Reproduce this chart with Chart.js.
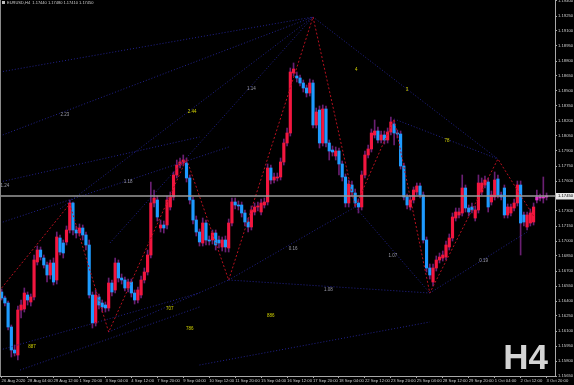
<!DOCTYPE html>
<html>
<head>
<meta charset="utf-8">
<script src="https://cdn.jsdelivr.net/npm/chart.js"></script>
<style>
  html, body { margin: 0; padding: 0; background: #000; }
  #chartCanvas { display: block; }
</style>
</head>
<body>
<canvas id="chartCanvas" width="574" height="385"></canvas>
<script>
var symbolName = "EURUSD,H4";

// H4 candles (oldest first)
var opens = [
  1.1649,1.1643,1.1638,1.1614,1.1591,1.1586,1.1631,1.1632,1.1646,1.1639,
  1.1644,1.1679,1.1691,1.1683,1.1676,1.1666,1.1678,1.1661,1.1703,1.1698,
  1.1699,1.1711,1.1738,1.1711,1.1708,1.1713,1.1706,1.1696,1.1646,1.1618,
  1.1644,1.1638,1.1636,1.1633,1.1658,1.1651,1.1678,1.1663,1.1661,1.1653,
  1.1659,1.1648,1.1641,1.1646,1.1661,1.1669,1.1686,1.1738,1.1741,1.1713,
  1.1716,1.1716,1.1734,1.1744,1.1766,1.1776,1.1778,1.1778,1.1763,1.1741,
  1.1721,1.1709,1.1698,1.1718,1.1701,1.1701,1.1708,1.1701,1.1694,1.1701,
  1.1693,1.1718,1.1739,1.1736,1.1736,1.1728,1.1719,1.1714,1.1729,1.1734,
  1.1729,1.1736,1.1739,1.1773,1.1761,1.1763,1.1764,1.1779,1.1798,1.1808,
  1.1868,1.1865,1.1863,1.1858,1.1853,1.1848,1.1858,1.1816,1.1831,1.1798,
  1.1832,1.1798,1.1791,1.1785,1.1790,1.1777,1.1764,1.1738,1.1756,1.1748,
  1.1738,1.1734,1.1766,1.1786,1.1792,1.1806,1.1810,1.1801,1.1806,1.1801,
  1.1809,1.1817,1.1808,1.1807,1.1775,1.1744,1.1734,1.1741,1.1749,1.1755,
  1.1746,1.1701,1.1673,1.1659,1.1673,1.1681,1.1683,1.1684,1.1694,1.1703,
  1.1723,1.1726,1.1728,1.1753,1.1733,1.1734,1.1723,1.1731,1.1749,1.1756,
  1.1759,1.1739,1.1744,1.1762,1.1746,1.1753,1.1726,1.1728,1.1733,1.1738,
  1.1756,1.1726,1.1714,1.1718,1.1719,1.1741,1.1744,1.1743,1.1744
];
var highs = [
  1.1652,1.1645,1.1640,1.1616,1.1596,1.1635,1.1641,1.1653,1.1649,1.1647,
  1.1686,1.1695,1.1694,1.1686,1.1679,1.1681,1.1683,1.1709,1.1706,1.1701,
  1.1715,1.1741,1.1739,1.1715,1.1717,1.1716,1.1709,1.1701,1.1649,1.1651,
  1.1647,1.1641,1.1639,1.1663,1.1661,1.1683,1.1681,1.1667,1.1664,1.1662,
  1.1662,1.1651,1.1654,1.1665,1.1673,1.1691,1.1759,1.1751,1.1745,1.1721,
  1.1720,1.1745,1.1749,1.1769,1.1781,1.1783,1.1786,1.1783,1.1766,1.1744,
  1.1725,1.1712,1.1723,1.1721,1.1705,1.1711,1.1711,1.1705,1.1704,1.1705,
  1.1722,1.1743,1.1743,1.1740,1.1739,1.1731,1.1723,1.1735,1.1738,1.1739,
  1.1742,1.1743,1.1777,1.1776,1.1768,1.1768,1.1783,1.1802,1.1813,1.1873,
  1.1878,1.1869,1.1866,1.1861,1.1856,1.1862,1.1861,1.1833,1.1835,1.1836,
  1.1835,1.1801,1.1795,1.1794,1.1793,1.1780,1.1767,1.1761,1.1760,1.1752,
  1.1742,1.1770,1.1790,1.1796,1.1812,1.1821,1.1814,1.1810,1.1810,1.1813,
  1.1824,1.1821,1.1811,1.1810,1.1778,1.1747,1.1745,1.1754,1.1758,1.1758,
  1.1749,1.1704,1.1677,1.1677,1.1685,1.1688,1.1690,1.1700,1.1707,1.1728,
  1.1733,1.1733,1.1766,1.1756,1.1736,1.1738,1.1735,1.1766,1.1763,1.1765,
  1.1763,1.1750,1.1769,1.1766,1.1749,1.1756,1.1737,1.1737,1.1742,1.1760,
  1.1760,1.1729,1.1729,1.1732,1.1738,1.1751,1.1747,1.1764,1.1748
];
var lows = [
  1.1641,1.1635,1.1611,1.1584,1.1585,1.1581,1.1623,1.1629,1.1636,1.1635,
  1.1641,1.1676,1.1681,1.1673,1.1659,1.1662,1.1656,1.1657,1.1686,1.1683,
  1.1696,1.1708,1.1706,1.1703,1.1705,1.1701,1.1691,1.1643,1.1613,1.1615,
  1.1632,1.1629,1.1629,1.1630,1.1645,1.1648,1.1659,1.1657,1.1650,1.1649,
  1.1644,1.1637,1.1638,1.1643,1.1658,1.1666,1.1683,1.1734,1.1720,1.1709,
  1.1708,1.1712,1.1731,1.1741,1.1763,1.1773,1.1775,1.1759,1.1737,1.1717,
  1.1705,1.1695,1.1695,1.1696,1.1696,1.1697,1.1691,1.1693,1.1690,1.1689,
  1.1689,1.1715,1.1732,1.1731,1.1724,1.1715,1.1709,1.1711,1.1726,1.1730,
  1.1726,1.1733,1.1736,1.1757,1.1758,1.1760,1.1761,1.1776,1.1795,1.1805,
  1.1865,1.1859,1.1855,1.1849,1.1844,1.1845,1.1813,1.1813,1.1793,1.1795,
  1.1794,1.1781,1.1785,1.1781,1.1766,1.1760,1.1734,1.1734,1.1745,1.1734,
  1.1728,1.1731,1.1763,1.1783,1.1789,1.1803,1.1798,1.1798,1.1797,1.1798,
  1.1806,1.1796,1.1803,1.1772,1.1741,1.1732,1.1731,1.1738,1.1746,1.1743,
  1.1698,1.1669,1.1662,1.1655,1.1670,1.1678,1.1680,1.1681,1.1691,1.1700,
  1.1720,1.1723,1.1725,1.1729,1.1725,1.1728,1.1720,1.1728,1.1746,1.1753,
  1.1729,1.1736,1.1741,1.1743,1.1741,1.1723,1.1723,1.1725,1.1730,1.1735,
  1.1686,1.1715,1.1711,1.1715,1.1716,1.1738,1.1740,1.1738,1.1741
];
var closes = [
  1.1643,1.1638,1.1614,1.1591,1.1588,1.1631,1.1636,1.1648,1.1641,1.1644,
  1.1681,1.1691,1.1684,1.1676,1.1666,1.1678,1.1659,1.1704,1.1689,1.1688,
  1.1711,1.1738,1.1711,1.1708,1.1713,1.1706,1.1696,1.1646,1.1618,1.1646,
  1.1636,1.1634,1.1633,1.1658,1.1649,1.1678,1.1663,1.1661,1.1653,1.1659,
  1.1648,1.1641,1.1651,1.1661,1.1669,1.1686,1.1738,1.1743,1.1724,1.1716,
  1.1713,1.1741,1.1744,1.1766,1.1776,1.1779,1.1781,1.1763,1.1741,1.1721,
  1.1709,1.1699,1.1718,1.1701,1.1700,1.1708,1.1696,1.1698,1.1701,1.1694,
  1.1718,1.1739,1.1736,1.1735,1.1728,1.1719,1.1714,1.1731,1.1734,1.1735,
  1.1738,1.1739,1.1773,1.1761,1.1764,1.1764,1.1779,1.1798,1.1808,1.1869,
  1.1872,1.1863,1.1858,1.1853,1.1848,1.1858,1.1816,1.1829,1.1798,1.1832,
  1.1798,1.1790,1.1789,1.1790,1.1777,1.1764,1.1738,1.1757,1.1749,1.1738,
  1.1734,1.1766,1.1786,1.1792,1.1808,1.1810,1.1801,1.1806,1.1801,1.1809,
  1.1819,1.1808,1.1807,1.1775,1.1744,1.1736,1.1741,1.1751,1.1755,1.1746,
  1.1701,1.1673,1.1666,1.1673,1.1681,1.1684,1.1686,1.1696,1.1703,1.1724,
  1.1729,1.1729,1.1753,1.1733,1.1729,1.1731,1.1731,1.1758,1.1758,1.1761,
  1.1734,1.1746,1.1761,1.1746,1.1744,1.1726,1.1734,1.1734,1.1738,1.1756,
  1.1718,1.1719,1.1726,1.1728,1.1734,1.1744,1.1743,1.1744,1.1745
];

// time axis labels (one every 8 bars)
var dateIdx = [0,8,16,24,32,40,48,56,64,72,80,88,96,104,112,120,128,136,144,152,160,168];
var dateLabels = ["26 Aug 2020","28 Aug 04:00","29 Aug 12:00","1 Sep 20:00","3 Sep 04:00","4 Sep 12:00",
  "7 Sep 20:00","9 Sep 04:00","10 Sep 12:00","11 Sep 20:00","15 Sep 04:00","16 Sep 12:00",
  "17 Sep 20:00","18 Sep 04:00","22 Sep 12:00","23 Sep 20:00","25 Sep 04:00","28 Sep 12:00",
  "29 Sep 20:00","1 Oct 04:00","2 Oct 12:00","3 Oct 20:00"];

// price axis labels
var priceTicks = [1.1940,1.1925,1.1910,1.1895,1.1880,1.1865,1.1850,1.1835,1.1820,1.1805,1.1790,1.1775,1.1760,
  1.1745,1.1730,1.1715,1.1700,1.1685,1.1670,1.1655,1.1640,1.1625,1.1610,1.1595,1.1580,1.1565];

// zigzag turning points (bar index, price)
var zzIdx   = [0,21,33,57,70,96,109,121,132,153,164];
var zzPrice = [1.1653,1.1737,1.1609,1.1782,1.1661,1.1924,1.1734,1.1822,1.1648,1.1782,1.1725];

// fan / trend lines: start bar, start price, end bar, end price
var fanFromIdx   = [-0.5,-0.5,18,33.4,96,121,-0.5,70,70,109,132,33,-0.5,5.7,61,-0.5];
var fanFromPrice = [1.1869,1.1805,1.1732,1.1698,1.1924,1.1822,1.1759,1.1661,1.1661,1.1734,1.1648,1.1609,1.1591,1.1571,1.1576,1.1718];
var fanToIdx     = [96,96,96,96,153,153,61,109,132,132,162,70,61,61,132,70];
var fanToPrice   = [1.1924,1.1924,1.1924,1.1924,1.1782,1.1782,1.1804,1.1734,1.1648,1.1648,1.1709,1.1661,1.1648,1.1634,1.1619,1.1794];

// small level texts on the chart
var fibText  = ["2.23","1.24","1.18","2.44","1.14","4","3","78","0.16","1.07","1.08","0.19","707","786","886","887"];
var fibIdx   = [19.5,1,39,58.7,77,109.3,125,137.3,89.9,120.6,100.7,148.6,51.8,58,83,9.4];
var fibPrice = [1.1826,1.1755,1.1759,1.1829,1.1852,1.1871,1.1851,1.1800,1.1692,1.1685,1.1651,1.1680,1.1632,1.1612,1.1625,1.1594];
var fibGold  = [false,false,false,true,false,true,true,true,false,false,false,false,true,true,true,true];

var upColor = "#f3163f";
var downColor = "#1e9bff";
var lastColor = "#e032c8";
var wickColor = "#6a1f72";

Chart.defaults.font.family = '"Liberation Sans", Arial, sans-serif';

var bodyData = [], wickData = [], bodyColors = [];
for (var i = 0; i < opens.length; i++) {
  bodyData.push({ x: i, y: [opens[i], closes[i]] });
  wickData.push({ x: i, y: [lows[i], highs[i]] });
  if (i >= opens.length - 4) bodyColors.push(lastColor);
  else bodyColors.push(closes[i] >= opens[i] ? upColor : downColor);
}

var zzData = [];
for (var z = 0; z < zzIdx.length; z++) zzData.push({ x: zzIdx[z], y: zzPrice[z] });

var datasets = [];
datasets.push({
  type: "line", data: zzData, borderColor: "#b8101f", borderWidth: 1,
  borderDash: [2, 2], pointRadius: 0, order: 0
});
for (var f = 0; f < fanFromIdx.length; f++) {
  datasets.push({
    type: "line",
    data: [{ x: fanFromIdx[f], y: fanFromPrice[f] }, { x: fanToIdx[f], y: fanToPrice[f] }],
    borderColor: "#22228f", borderWidth: 1, borderDash: [1, 2], pointRadius: 0, order: 1
  });
}
datasets.push({
  type: "bar", data: bodyData, backgroundColor: bodyColors, barThickness: 2.5,
  grouped: false, minBarLength: 1, order: 2
});
datasets.push({
  type: "bar", data: wickData, backgroundColor: wickColor, barThickness: 1,
  grouped: false, order: 3
});

// black window, bid line, texts
var mtOverlay = {
  id: "mtOverlay",
  beforeDraw: function(chart) {
    var ctx = chart.ctx;
    ctx.save();
    ctx.fillStyle = "#000";
    ctx.fillRect(0, 0, chart.width, chart.height);
    ctx.restore();
  },
  afterDatasetsDraw: function(chart) {
    var ctx = chart.ctx, area = chart.chartArea;
    var xs = chart.scales.x, ys = chart.scales.y;
    ctx.save();

    // level texts
    ctx.font = '4.5px "Liberation Sans"';
    ctx.textAlign = "center";
    ctx.textBaseline = "middle";
    for (var k = 0; k < fibText.length; k++) {
      ctx.fillStyle = fibGold[k] ? "#d2d200" : "#9a9aa8";
      ctx.fillText(fibText[k], xs.getPixelForValue(fibIdx[k]), ys.getPixelForValue(fibPrice[k]));
    }

    // bid line
    var py = ys.getPixelForValue(closes[closes.length - 1]);
    ctx.strokeStyle = "#9a9a9a";
    ctx.lineWidth = 1.5;
    ctx.beginPath();
    ctx.moveTo(area.left, py);
    ctx.lineTo(area.right, py);
    ctx.stroke();

    // left frame
    ctx.strokeStyle = "#8a8a8a";
    ctx.lineWidth = 1;
    ctx.beginPath();
    ctx.moveTo(0.5, 0);
    ctx.lineTo(0.5, area.bottom);
    ctx.stroke();

    // header
    var n = opens.length - 1;
    var head = symbolName + "  " + opens[n].toFixed(5) + " " + highs[n].toFixed(5) + " " +
      lows[n].toFixed(5) + " " + closes[n].toFixed(5);
    ctx.fillStyle = "#bdbdbd";
    ctx.fillRect(2, 1, 3, 3);
    ctx.font = '4px "Liberation Sans"';
    ctx.textAlign = "left";
    ctx.textBaseline = "top";
    ctx.fillStyle = "#d0d0d0";
    ctx.fillText(head, 7, 1);

    // timeframe mark
    ctx.font = 'bold 35px "Liberation Sans"';
    ctx.textAlign = "right";
    ctx.textBaseline = "alphabetic";
    ctx.fillStyle = "#d4d4d4";
    ctx.fillText("H4", 548, 369);
    ctx.restore();
  },
  afterDraw: function(chart) {
    var ctx = chart.ctx, area = chart.chartArea, ys = chart.scales.y;
    var last = closes[closes.length - 1];
    var py = ys.getPixelForValue(last);
    ctx.save();
    ctx.fillStyle = "#e8e8e8";
    ctx.fillRect(area.right + 1, py - 3, chart.width - area.right - 1, 6.5);
    ctx.fillStyle = "#000";
    ctx.font = '4.2px "Liberation Sans"';
    ctx.textAlign = "left";
    ctx.textBaseline = "middle";
    ctx.fillText(last.toFixed(5), area.right + 3, py + 0.3);
    ctx.restore();
  }
};

new Chart(document.getElementById("chartCanvas"), {
  type: "bar",
  data: { datasets: datasets },
  options: {
    responsive: false,
    animation: false,
    devicePixelRatio: 1,
    layout: { padding: 0 },
    plugins: { legend: { display: false }, tooltip: { enabled: false } },
    scales: {
      x: {
        type: "linear",
        min: -0.5,
        max: 170.6,
        offset: false,
        grid: { offset: false, drawOnChartArea: false, drawTicks: true, tickLength: 2, color: "#a8a8a8" },
        border: { display: true, color: "#a8a8a8" },
        ticks: {
          autoSkip: false, maxRotation: 0, align: "start", padding: 0,
          color: "#cfcfcf", font: { size: 4.2 },
          callback: function(value, index) { return dateLabels[index]; }
        },
        afterBuildTicks: function(scale) {
          scale.ticks = dateIdx.map(function(v) { return { value: v }; });
        },
        afterFit: function(scale) {
          scale.height = 9;
          scale.paddingLeft = 0;
          scale.paddingRight = 0;
        }
      },
      y: {
        type: "linear",
        position: "right",
        min: 1.1565,
        max: 1.1941,
        beginAtZero: false,
        grid: { drawOnChartArea: false, drawTicks: true, tickLength: 2, color: "#a8a8a8" },
        border: { display: true, color: "#a8a8a8" },
        ticks: {
          padding: 1, color: "#cfcfcf", font: { size: 4.2 },
          callback: function(value) { return value.toFixed(5); }
        },
        afterBuildTicks: function(scale) {
          scale.ticks = priceTicks.map(function(v) { return { value: v }; });
        },
        afterFit: function(scale) {
          scale.width = 19;
          scale.paddingTop = 0;
          scale.paddingBottom = 0;
        }
      }
    }
  },
  plugins: [mtOverlay]
});
</script>
</body>
</html>
